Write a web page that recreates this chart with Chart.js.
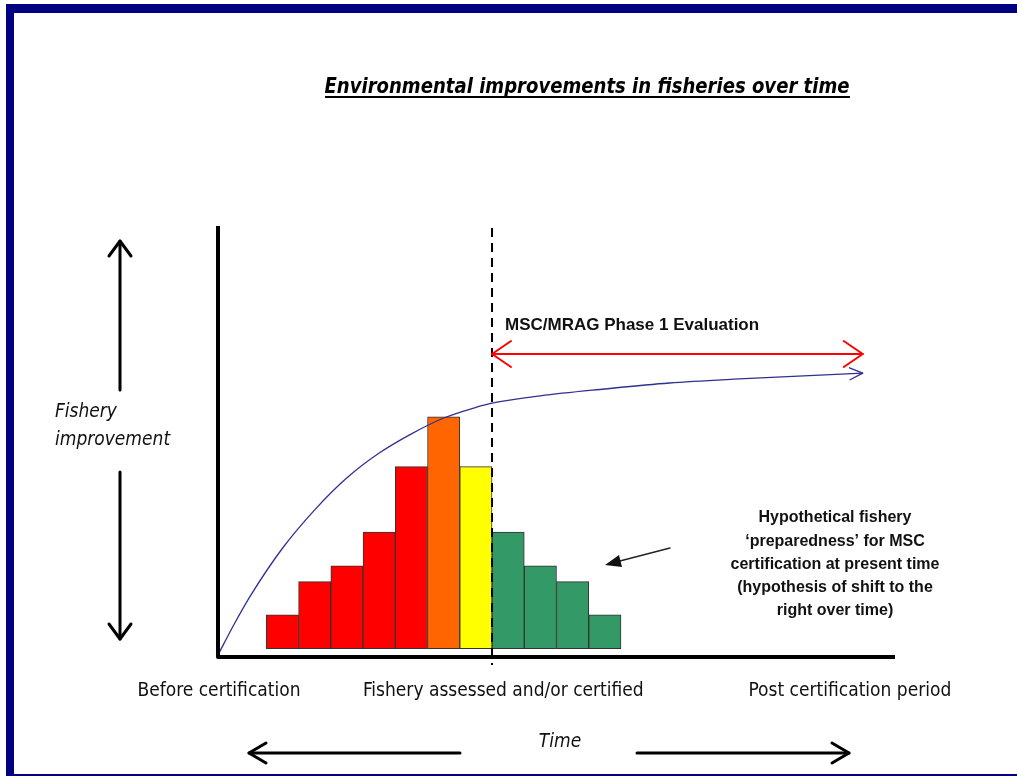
<!DOCTYPE html>
<html>
<head>
<meta charset="utf-8">
<title>Environmental improvements in fisheries over time</title>
<script src="https://cdn.jsdelivr.net/npm/chart.js@4.4.1/dist/chart.umd.min.js"></script>
<style>
  html, body { margin: 0; padding: 0; background: #fff; }
  #wrap { width: 1017px; height: 776px; position: relative; }
</style>
</head>
<body>
<div id="wrap"><canvas id="fishChart" width="1017" height="776"></canvas></div>
<script>
// preparedness histogram (x = bar centre, y = bar top, all bars start at barBase)
const barX = [2, 3, 4, 5, 6, 7, 8, 9, 10, 11, 12];
const barTop = [9.4, 17.2, 20.9, 28.8, 44.1, 55.8, 44.1, 28.8, 20.9, 17.2, 9.4];
const barBase = 1.5;
const barColors = ['#ff0000', '#ff0000', '#ff0000', '#ff0000', '#ff0000',
                   '#ff6600', '#ffff00',
                   '#339966', '#339966', '#339966', '#339966'];

// improvement curve
const curveX = [0, 0.5, 1, 2, 3, 4, 5, 6, 7, 8, 8.5, 10, 12, 14, 16, 18, 20];
const curveY = [0, 7.2, 13.8, 25, 34, 41.5, 47.3, 51.8, 55.5, 58, 59, 60.7, 62.3, 63.7, 64.6, 65.3, 66];

// time axis labels and where they sit
const timeLabels = ['Before certification', 'Fishery assessed and/or certified', 'Post certification period'];
const timeLabelX = [0.03, 8.85, 19.6];

const assessedAt = 8.5;           // dashed line
const phaseRange = [8.5, 20];     // red double arrow
const phaseLevel = 70.5;
const phaseLabel = 'MSC/MRAG Phase 1 Evaluation';

const noteLines = ['Hypothetical fishery', '\u2018preparedness\u2019 for MSC',
                   'certification at present time', '(hypothesis of shift to the', 'right over time)'];

const comic = "'Comic Sans MS', 'DejaVu Sans Condensed', 'DejaVu Sans', sans-serif";
const arial = "'Liberation Sans', Arial, sans-serif";

function chevron(ctx, tipX, tipY, dx, dy, len, half) {
    // open arrow head pointing along (dx, dy)
    const l = Math.hypot(dx, dy);
    const ux = dx / l, uy = dy / l;
    const bx = tipX - ux * len, by = tipY - uy * len;
    ctx.beginPath();
    ctx.moveTo(bx - uy * half, by + ux * half);
    ctx.lineTo(tipX, tipY);
    ctx.lineTo(bx + uy * half, by - ux * half);
    ctx.stroke();
}

const decorations = {
    id: 'decorations',
    afterDatasetsDraw(chart) {
        const ctx = chart.ctx;
        const xs = chart.scales.x, ys = chart.scales.y;
        const area = chart.chartArea;
        ctx.save();
        ctx.lineCap = 'round';
        ctx.lineJoin = 'round';

        // frame
        ctx.fillStyle = '#000080';
        ctx.fillRect(6, 4, 1011, 9);
        ctx.fillRect(6, 4, 8, 772);
        ctx.fillRect(6, 774, 1011, 2);

        // axes
        ctx.strokeStyle = '#000';
        ctx.lineWidth = 4;
        ctx.lineCap = 'butt';
        ctx.beginPath();
        ctx.moveTo(area.left, area.top - 2);
        ctx.lineTo(area.left, area.bottom + 2);
        ctx.lineTo(area.right, area.bottom + 2);
        ctx.stroke();

        // dashed line at assessment
        const dx = xs.getPixelForValue(assessedAt);
        ctx.lineWidth = 2;
        ctx.setLineDash([9, 6]);
        ctx.beginPath();
        ctx.moveTo(dx, area.top);
        ctx.lineTo(dx, area.bottom + 10);
        ctx.stroke();
        ctx.setLineDash([]);
        ctx.lineCap = 'round';

        // red double arrow
        const rx0 = xs.getPixelForValue(phaseRange[0]);
        const rx1 = xs.getPixelForValue(phaseRange[1]);
        const ry = ys.getPixelForValue(phaseLevel);
        ctx.strokeStyle = '#ff0000';
        ctx.lineWidth = 2;
        ctx.beginPath();
        ctx.moveTo(rx0, ry);
        ctx.lineTo(rx1, ry);
        ctx.stroke();
        chevron(ctx, rx0, ry, -1, 0, 19, 13);
        chevron(ctx, rx1, ry, 1, 0, 19, 13);

        ctx.fillStyle = '#111';
        ctx.font = 'bold 17px ' + arial;
        ctx.textAlign = 'left';
        ctx.textBaseline = 'middle';
        ctx.fillText(phaseLabel, rx0 + 13, ry - 29, 295);

        // arrow head on the curve
        const n = curveX.length;
        const ex = xs.getPixelForValue(curveX[n - 1]), ey = ys.getPixelForValue(curveY[n - 1]);
        const px = xs.getPixelForValue(curveX[n - 2]), py = ys.getPixelForValue(curveY[n - 2]);
        ctx.strokeStyle = '#303090';
        ctx.lineWidth = 1.3;
        chevron(ctx, ex, ey, ex - px, ey - py, 13, 6);

        // note with pointer arrow
        ctx.fillStyle = '#111';
        ctx.font = 'bold 16px ' + arial;
        ctx.textAlign = 'center';
        noteLines.forEach((t, i) => ctx.fillText(t, 835, 518 + i * 23.2));
        ctx.strokeStyle = '#222';
        ctx.lineWidth = 1.3;
        ctx.beginPath();
        ctx.moveTo(670, 548);
        ctx.lineTo(616, 562);
        ctx.stroke();
        ctx.fillStyle = '#111';
        ctx.beginPath();
        ctx.moveTo(605, 565);
        ctx.lineTo(619, 555);
        ctx.lineTo(622, 567);
        ctx.closePath();
        ctx.fill();

        // title
        ctx.font = 'italic bold 21px ' + comic;
        ctx.textAlign = 'center';
        ctx.textBaseline = 'alphabetic';
        ctx.fillStyle = '#000';
        ctx.fillText('Environmental improvements in fisheries over time', 587, 93, 525);
        ctx.fillRect(325, 96, 525, 2);

        // time labels
        ctx.font = '19px ' + comic;
        ctx.textBaseline = 'middle';
        ctx.fillStyle = '#111';
        const widths = [168, 285, 206];
        timeLabels.forEach((t, i) => ctx.fillText(t, xs.getPixelForValue(timeLabelX[i]), 691, widths[i]));

        // y label and arrow
        ctx.font = 'italic 19px ' + comic;
        ctx.textAlign = 'left';
        ctx.fillText('Fishery', 55, 412, 72);
        ctx.fillText('improvement', 55, 440, 117);
        ctx.strokeStyle = '#000';
        ctx.lineWidth = 3;
        ctx.beginPath();
        ctx.moveTo(120, 241); ctx.lineTo(120, 390);
        ctx.moveTo(120, 472); ctx.lineTo(120, 639);
        ctx.stroke();
        chevron(ctx, 120, 241, 0, -1, 15, 11);
        chevron(ctx, 120, 639, 0, 1, 15, 11);

        // time label and arrows
        ctx.font = 'italic 19px ' + comic;
        ctx.textAlign = 'center';
        ctx.fillText('Time', 560, 742, 46);
        ctx.beginPath();
        ctx.moveTo(249, 753); ctx.lineTo(460, 753);
        ctx.moveTo(637, 753); ctx.lineTo(849, 753);
        ctx.stroke();
        chevron(ctx, 249, 753, -1, 0, 17, 10);
        chevron(ctx, 849, 753, 1, 0, 17, 10);

        ctx.restore();
    }
};

const ctx = document.getElementById('fishChart').getContext('2d');
const fishChart = new Chart(ctx, {
    type: 'bar',
    data: {
        datasets: [
            {
                type: 'line',
                label: 'Fishery improvement',
                data: curveX.map((x, i) => ({ x: x, y: curveY[i] })),
                borderColor: '#303090',
                borderWidth: 1.3,
                pointRadius: 0,
                fill: false,
                cubicInterpolationMode: 'monotone'
            },
            {
                label: 'Preparedness',
                data: barX.map((x, i) => ({ x: x, y: [barBase, barTop[i]] })),
                backgroundColor: barColors,
                borderColor: '#333',
                borderWidth: 1,
                borderSkipped: false,
                barPercentage: 1,
                categoryPercentage: 1
            }
        ]
    },
    options: {
        responsive: false,
        animation: false,
        layout: { padding: { left: 218, right: 122, top: 228, bottom: 121 } },
        plugins: {
            legend: { display: false },
            tooltip: { enabled: false }
        },
        scales: {
            x: { type: 'linear', min: 0, max: 21, offset: false, display: false },
            y: { min: 0, max: 100, display: false }
        }
    },
    plugins: [decorations]
});
</script>
</body>
</html>
